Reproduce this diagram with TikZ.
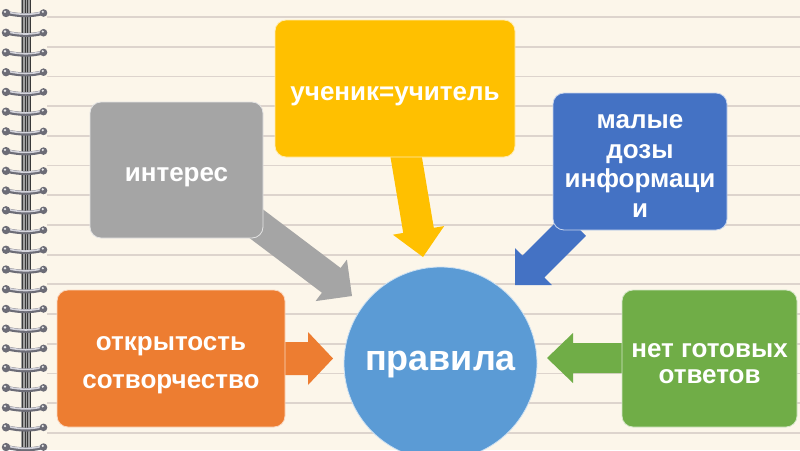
\documentclass[tikz,border=0pt]{standalone}
\usepackage{fontspec}
\setmainfont{Liberation Sans}
\usetikzlibrary{calc}
\definecolor{bg}{HTML}{FCF6EA}
\definecolor{rule}{HTML}{DDD4CD}
\definecolor{cyel}{HTML}{FFC000}
\definecolor{cgray}{HTML}{A5A5A5}
\definecolor{cblue}{HTML}{4472C4}
\definecolor{corange}{HTML}{ED7D31}
\definecolor{cgreen}{HTML}{70AD47}
\definecolor{ccirc}{HTML}{5B9BD5}
\definecolor{ringdark}{HTML}{6C6C76}
\definecolor{ringlight}{HTML}{D4D4DC}
\newcommand\blockarr[6]{%
  \coordinate (hb) at ($(#2)!#5!(#1)$);
  \fill[#6] ($(#1)!#3!90:(#2)$) -- ($(hb)!#3!90:(#2)$) -- ($(hb)!#4!90:(#2)$)
    -- (#2) -- ($(hb)!#4!-90:(#2)$) -- ($(hb)!#3!-90:(#2)$)
    -- ($(#1)!#3!-90:(#2)$) -- cycle;}
\begin{document}
\begin{tikzpicture}[x=1pt,y=-1pt,
  box/.style={draw=white!70!#1, line width=0.8pt, fill=#1, rounded corners=11pt},
  lbl/.style={text=white, align=center, font=\bfseries\fontsize{26}{29}\selectfont, inner sep=0pt},
]
\useasboundingbox (0,0) rectangle (800,450);
\clip (0,0) rectangle (800,450);
\fill[bg] (0,0) rectangle (800,450);
% ruled lines
\foreach \k in {0,...,14} {
  \draw[rule, line width=1.8pt] (47,{17+29.7*\k}) -- (800,{17+29.7*\k});
}
% binding strip
\fill[gray!75] (21,0) rectangle (31,450);
\foreach \xx in {22.5,25,27.5,30} \draw[gray!45!black, line width=0.6pt] (\xx,0) -- (\xx,450);
% rings
\foreach \k in {0,...,22} {
  \pgfmathsetmacro\yy{13+19.73*\k}
  \draw[ringdark, line width=4pt, line cap=round] (7,\yy) .. controls (20,{\yy+3}) and (32,{\yy+3}) .. (43,\yy);
  \draw[ringlight, line width=1.6pt, line cap=round] (8,{\yy-0.8}) .. controls (20,{\yy+2}) and (32,{\yy+2}) .. (42,{\yy-0.8});
  \fill[ringdark] (6,\yy) circle (4.2);
  \fill[ringdark] (43.5,\yy) circle (3.8);
  \fill[white!85!ringdark] (5,{\yy-1.2}) circle (1.3);
  \fill[white!85!ringdark] (42.8,{\yy-1.2}) circle (1.2);
}
% arrow endpoints
\coordinate (ya1) at (405,150);  \coordinate (ya2) at (423,257);
\coordinate (ga1) at (250,219);  \coordinate (ga2) at (352,296);
\coordinate (ba1) at (575,225);  \coordinate (ba2) at (515,285);
\coordinate (oa1) at (280,358.5); \coordinate (oa2) at (333,358.5);
\coordinate (na1) at (628,358);  \coordinate (na2) at (547,358);
\blockarr{ya1}{ya2}{15.5pt}{26pt}{27pt}{cyel}
\blockarr{ga1}{ga2}{15.5pt}{26pt}{26pt}{cgray}
\blockarr{ba1}{ba2}{15.5pt}{26pt}{26pt}{cblue}
\blockarr{oa1}{oa2}{16.5pt}{26.5pt}{25pt}{corange}
\blockarr{na1}{na2}{15pt}{25pt}{26pt}{cgreen}
% boxes
\node[box=cyel, minimum width=240pt, minimum height=137pt] (yel) at (395,88.5) {};
\node[box=cgray, minimum width=173pt, minimum height=136pt] (gry) at (176.5,170) {};
\node[box=cblue, minimum width=174pt, minimum height=137pt] (blu) at (640,161.5) {};
\node[box=corange, minimum width=228pt, minimum height=137pt] (org) at (171,358.5) {};
\node[box=cgreen, minimum width=175pt, minimum height=137pt] (grn) at (709.5,358.5) {};
\node[circle, fill=ccirc, draw=white!70!ccirc, line width=0.8pt, minimum size=193pt, inner sep=0pt] (rul) at (440.5,363.5) {};
% labels
\node[lbl] (yelt) at ($(yel.center)+(0,8)$) {ученик=учитель};
\node[lbl] (gryt) at ($(gry.center)+(0,7)$) {интерес};
\node[lbl, font=\bfseries\fontsize{26}{29.5}\selectfont] (blut) at ($(blu.center)+(0,4.5)$) {малые\\дозы\\информаци\\и};
\node[lbl, font=\bfseries\fontsize{26}{38}\selectfont] (orgt) at ($(org.center)+(0,6.5)$) {открытость\\сотворчество};
\node[lbl, font=\bfseries\fontsize{26}{26}\selectfont] (grnt) at ($(grn.center)+(0,5)$) {нет готовых\\ответов};
\node[lbl, font=\bfseries\fontsize{36}{40}\selectfont] (rult) at ($(rul.center)+(0,1)$) {правила};
\end{tikzpicture}
\end{document}
